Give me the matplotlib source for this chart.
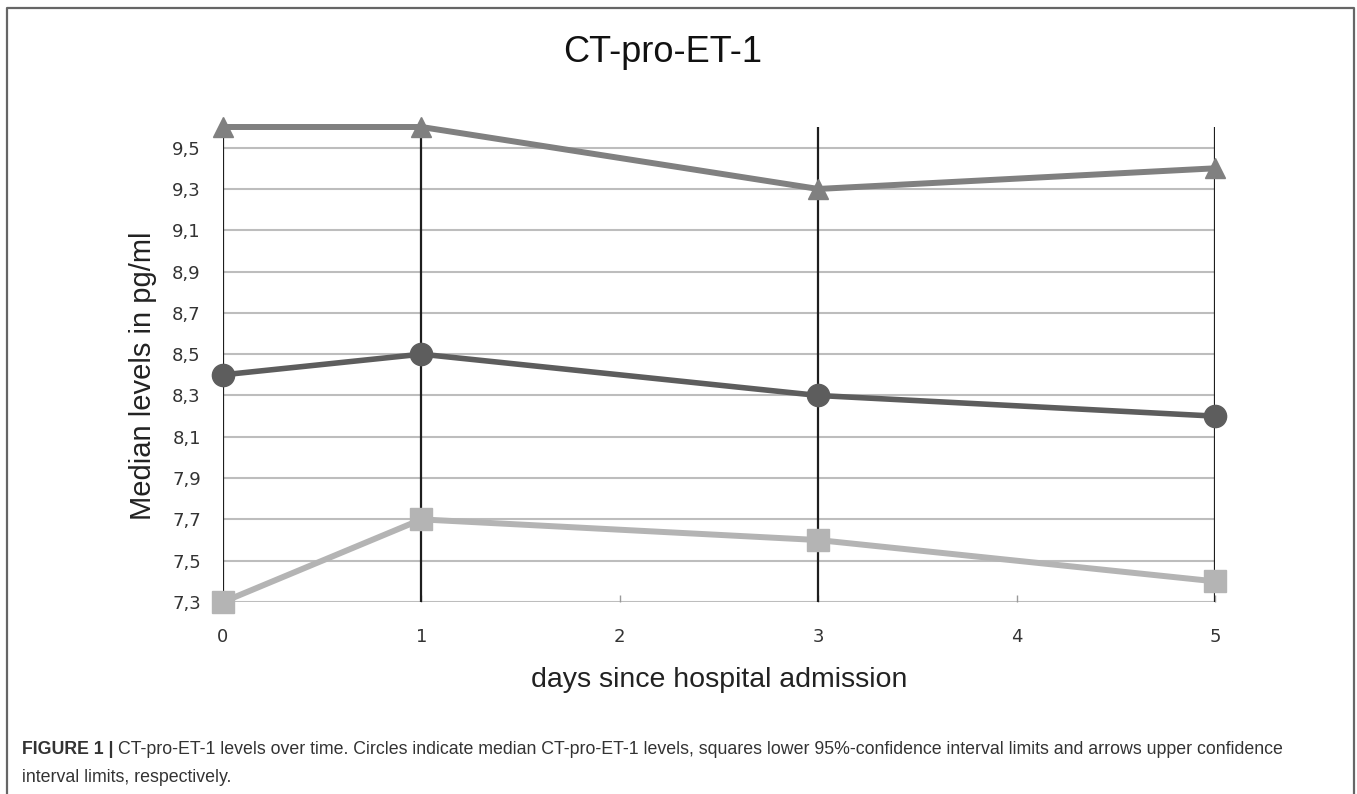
import matplotlib
matplotlib.use("Agg")
import matplotlib.pyplot as plt
import numpy as np

# data
days = [0, 1, 3, 5]
upper_ci = [9.6, 9.6, 9.3, 9.4]     # triangles
median = [8.4, 8.5, 8.3, 8.2]       # circles
lower_ci = [7.3, 7.7, 7.6, 7.4]     # squares

y_ticks = [7.3, 7.5, 7.7, 7.9, 8.1, 8.3, 8.5, 8.7, 8.9, 9.1, 9.3, 9.5]
x_ticks = [0, 1, 2, 3, 4, 5]

W, H = 1357, 794
fig = plt.figure(figsize=(W / 100, H / 100), dpi=100)
fig.patch.set_facecolor("white")

# axes box in pixels: x 223..1215, y 127..602
ax = fig.add_axes([223 / W, 1 - 602 / H, (1215 - 223) / W, (602 - 127) / H])
ax.set_xlim(0, 5)
ax.set_ylim(7.3, 9.6)
for s in ax.spines.values():
    s.set_visible(False)
ax.patch.set_alpha(0)

# horizontal grid
ax.hlines(y_ticks, 0, 5, color="#bdbdbd", lw=1.5, zorder=1)
# vertical drop lines at measured days
ax.vlines(days, 7.3, 9.6, color="#1e1e1e", lw=1.6, zorder=2)

ax.plot(days, upper_ci, color="#808080", lw=4.3, marker="^", ms=15,
        clip_on=False, zorder=4)
ax.plot(days, median, color="#5d5d5d", lw=4.0, marker="o", ms=16,
        clip_on=False, zorder=4)
ax.plot(days, lower_ci, color="#b4b4b4", lw=4.3, marker="s", ms=16,
        clip_on=False, zorder=4)

ax.set_xticks(x_ticks)
ax.set_xticklabels([str(d) for d in x_ticks], family="DejaVu Sans",
                   fontsize=13, color="#333333")
ax.set_yticks(y_ticks)
ax.set_yticklabels([f"{v:.1f}".replace(".", ",") for v in y_ticks],
                   family="DejaVu Sans", fontsize=13, color="#333333")
ax.tick_params(axis="x", direction="in", length=5, width=1, color="#9a9a9a", pad=19)
ax.tick_params(axis="y", length=0, pad=16)

ax.set_xlabel("days since hospital admission", family="Liberation Sans",
              fontsize=20.5, color="#222222")
ax.set_ylabel("Median levels in pg/ml", family="Liberation Sans",
              fontsize=21, color="#222222")
ax.xaxis.set_label_coords(0.5, (602 - 680) / 475, transform=ax.transAxes)
ax.yaxis.set_label_coords((143 - 223) / 992, (602 - 376) / 475, transform=ax.transAxes)
ax.xaxis.label.set_va("center")
ax.yaxis.label.set_va("center")

fig.text(663 / W, 1 - 52 / H, "CT-pro-ET-1", family="Liberation Sans",
         fontsize=26, color="#111111", ha="center", va="center")

# outer frame (left, top, right)
frame_x = [7 / W, 7 / W, 1354 / W, 1354 / W]
frame_y = [0, 1 - 8 / H, 1 - 8 / H, 0]
fig.add_artist(plt.Line2D(frame_x, frame_y, color="#666666", lw=1.6))

# caption
cap_kw = dict(family="Liberation Sans", fontsize=12.8, color="#333333",
              va="center", ha="left")
fig.canvas.draw()
r = fig.canvas.get_renderer()
t1 = fig.text(22 / W, 1 - 750 / H, "FIGURE 1 | ", fontweight="bold", **cap_kw)
bb = t1.get_window_extent(renderer=r)
fig.text(bb.x1 / W, 1 - 750 / H,
         "CT-pro-ET-1 levels over time. Circles indicate median CT-pro-ET-1 levels, "
         "squares lower 95%-confidence interval limits and arrows upper confidence",
         **cap_kw)
fig.text(22 / W, 1 - 777 / H, "interval limits, respectively.", **cap_kw)

fig.savefig("out.png", dpi=100)
